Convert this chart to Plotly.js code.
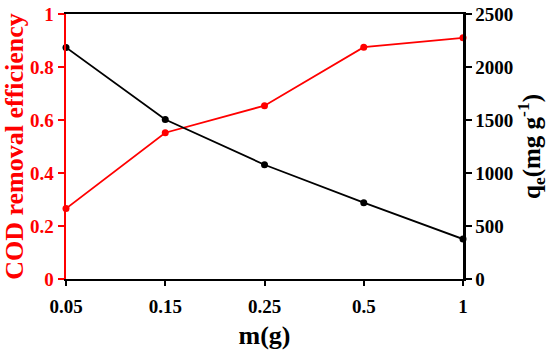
<!DOCTYPE html>
<html>
<head>
<meta charset="utf-8">
<script src="https://cdn.plot.ly/plotly-3.0.1.min.js"></script>
<style>html,body{margin:0;padding:0;background:#fff;}#chart{width:550px;height:355px;}</style>
</head>
<body>
<div id="chart"></div>
<script>
var categories = ["0.05", "0.15", "0.25", "0.5", "1"];
var codEfficiency = [0.266, 0.552, 0.654, 0.875, 0.91];
var qe = [2185, 1505, 1078, 720, 377];
var leftTicks = [0, 0.2, 0.4, 0.6, 0.8, 1];
var leftTickText = ["0", "0.2", "0.4", "0.6", "0.8", "1"];
var rightTicks = [0, 500, 1000, 1500, 2000, 2500];

var FONT = "'Liberation Serif', 'Times New Roman', serif";
var RED = "#ff0000";

var traces = [
  {
    x: categories, y: codEfficiency, type: "scatter", mode: "lines+markers",
    line: {color: RED, width: 1.8}, marker: {color: RED, size: 7},
    cliponaxis: false, yaxis: "y", showlegend: false
  },
  {
    x: categories, y: qe, type: "scatter", mode: "lines+markers",
    line: {color: "#000000", width: 1.8}, marker: {color: "#000000", size: 7},
    cliponaxis: false, yaxis: "y2", showlegend: false
  }
];

var layout = {
  width: 550, height: 355,
  margin: {l: 66, r: 87, t: 14, b: 76},
  paper_bgcolor: "#ffffff", plot_bgcolor: "#ffffff",
  font: {family: FONT},
  xaxis: {
    type: "category", range: [0, 4], showgrid: false, zeroline: false,
    showline: true, linecolor: "#000", linewidth: 2, mirror: true,
    ticks: "outside", ticklen: 5, tickwidth: 2, tickcolor: "#000",
    ticklabelstandoff: 4,
    tickfont: {family: FONT, size: 19, color: "#000", weight: 700},
    title: {text: "m(g)", font: {family: FONT, size: 26, color: "#000", weight: 700}, standoff: 10}
  },
  yaxis: {
    range: [0, 1], showgrid: false, zeroline: false,
    showline: true, linecolor: RED, linewidth: 2.5,
    ticks: "outside", ticklen: 6, tickwidth: 2, tickcolor: RED,
    tickvals: leftTicks, ticktext: leftTickText,
    tickfont: {family: FONT, size: 19, color: RED, weight: 700},
    title: {text: "COD removal efficiency", font: {family: FONT, size: 26, color: RED, weight: 700}, standoff: 3}
  },
  yaxis2: {
    range: [0, 2500], overlaying: "y", side: "right", showgrid: false, zeroline: false,
    showline: true, linecolor: "#000", linewidth: 2.5,
    ticks: "outside", ticklen: 6, tickwidth: 2, tickcolor: "#000",
    tickvals: rightTicks,
    tickfont: {family: FONT, size: 19, color: "#000", weight: 700},
    title: {text: "q<sub>e</sub>(mg g<sup>-1</sup>)", font: {family: FONT, size: 25, color: "#000", weight: 700}, standoff: 8}
  }
};

Plotly.newPlot("chart", traces, layout, {staticPlot: true, displayModeBar: false});
</script>
</body>
</html>
